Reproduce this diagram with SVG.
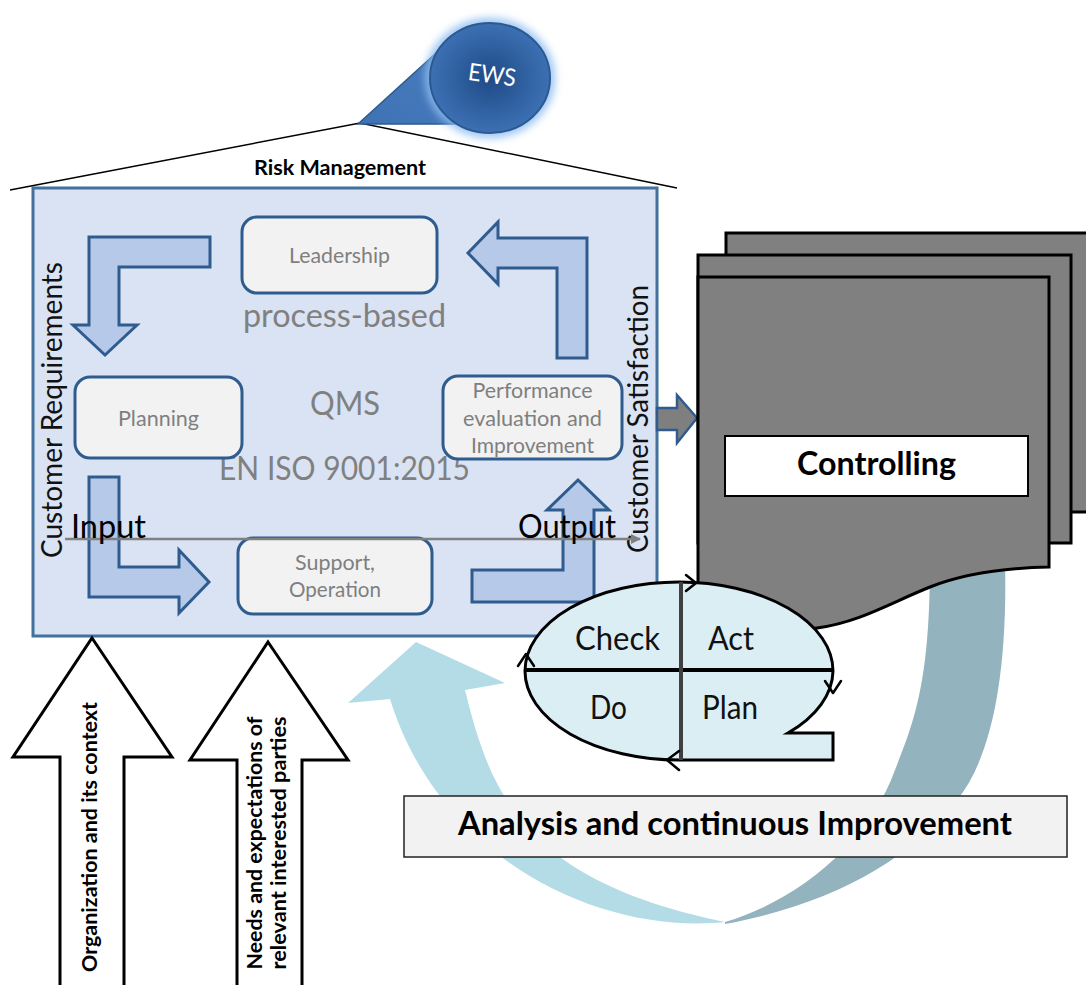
<svg xmlns="http://www.w3.org/2000/svg" width="1086" height="985" viewBox="0 0 1086 985">
<defs>
<style>
text{font-family:Lato,"Liberation Sans",sans-serif}
.pbox{fill:#f2f2f2;stroke:#2f5c8f;stroke-width:3}
.ptxt{fill:#7f7f7f;font-size:21px;text-anchor:middle}
.big{fill:#808080;font-size:33px;text-anchor:middle}
.bent{fill:#b6c9e8;stroke:#2f5c8f;stroke-width:3;stroke-linejoin:miter}
.pdca{fill:#111;font-size:33px;text-anchor:middle}
.cust{fill:#111;font-size:28px;text-anchor:middle}
.upar{fill:#fff;stroke:#000;stroke-width:3;stroke-linejoin:miter}
.bold{font-weight:bold;fill:#000}
.chev{fill:none;stroke:#000;stroke-width:2.5;stroke-linecap:round;stroke-linejoin:round}
</style>
<radialGradient id="ewsg" cx="50%" cy="50%" r="55%">
<stop offset="0" stop-color="#1f4a86"/>
<stop offset="1" stop-color="#3f74b8"/>
</radialGradient>
<linearGradient id="trig" x1="0" y1="1" x2="1" y2="0">
<stop offset="0" stop-color="#3e72b4"/>
<stop offset="1" stop-color="#4a7fc0"/>
</linearGradient>
<filter id="glow" x="-40%" y="-40%" width="180%" height="180%"><feGaussianBlur stdDeviation="4"/></filter>
<marker id="gArr" viewBox="0 0 10 10" refX="9" refY="5" markerWidth="4" markerHeight="4" orient="auto"><path d="M0,0 L10,5 L0,10 Z" fill="#808080"/></marker>
</defs>
<rect width="1086" height="985" fill="#fff"/>

<g id="qms-box">
<rect x="33" y="188" width="624" height="448" fill="#dae3f3" stroke="#41719c" stroke-width="3"/>
<text class="cust" transform="translate(62,410) rotate(-90)" textLength="296" lengthAdjust="spacingAndGlyphs">Customer Requirements</text>
<text class="cust" transform="translate(648,419) rotate(-90)" textLength="268" lengthAdjust="spacingAndGlyphs">Customer Satisfaction</text>
<text class="big" x="344.5" y="327" textLength="203" lengthAdjust="spacingAndGlyphs">process-based</text>
<text class="big" x="345" y="415" textLength="70" lengthAdjust="spacingAndGlyphs">QMS</text>
<text class="big" x="344.5" y="480" textLength="251" lengthAdjust="spacingAndGlyphs">EN ISO 9001:2015</text>
</g>

<g id="cycle-arrows">
<path class="bent" d="M210,237 L89,237 L89,325 L73,325 L105,355 L137,325 L119,325 L119,267 L210,267 Z"/>
<path class="bent" d="M557,358 L557,268 L498,268 L498,284 L468,253 L498,222 L498,238 L587,238 L587,358 Z"/>
<path class="bent" d="M89,477 L119,477 L119,567 L179,567 L179,550 L209,582 L179,613 L179,597 L89,597 Z"/>
<path class="bent" d="M472,570 L563,570 L563,510 L547,510 L578,480 L609,510 L594,510 L594,602 L472,602 Z"/>
</g>

<g id="leadership">
<rect class="pbox" x="242" y="217" width="195" height="76" rx="15"/>
<text class="ptxt" x="339.5" y="263" textLength="101" lengthAdjust="spacingAndGlyphs">Leadership</text>
</g>
<g id="planning">
<rect class="pbox" x="75" y="377" width="167" height="81" rx="15"/>
<text class="ptxt" x="158.5" y="426" textLength="81" lengthAdjust="spacingAndGlyphs">Planning</text>
</g>
<g id="performance">
<rect class="pbox" x="443" y="376" width="179" height="83" rx="15"/>
<text class="ptxt" x="532.5" y="398" textLength="120" lengthAdjust="spacingAndGlyphs">Performance</text>
<text class="ptxt" x="532.5" y="426" textLength="139" lengthAdjust="spacingAndGlyphs">evaluation and</text>
<text class="ptxt" x="532.5" y="453" textLength="123" lengthAdjust="spacingAndGlyphs">Improvement</text>
</g>
<g id="support">
<rect class="pbox" x="238" y="538" width="194" height="76" rx="15"/>
<text class="ptxt" x="335" y="570" textLength="80" lengthAdjust="spacingAndGlyphs">Support,</text>
<text class="ptxt" x="335" y="597" textLength="92" lengthAdjust="spacingAndGlyphs">Operation</text>
</g>

<g id="connectors">
<line x1="65" y1="539" x2="640" y2="539" stroke="#808080" stroke-width="2.5" marker-end="url(#gArr)"/>
<path d="M657,408 L677,408 L677,395 L697,418 L677,443 L677,430 L657,430 Z" fill="#7f7f7f" stroke="#2f5c8f" stroke-width="2.5"/>
</g>

<g id="io-labels">
<text x="71" y="538" font-size="33" fill="#000" textLength="75" lengthAdjust="spacingAndGlyphs">Input</text>
<text x="518" y="538" font-size="33" fill="#000" textLength="98" lengthAdjust="spacingAndGlyphs">Output</text>
</g>

<g id="improvement-arrow">
<path d="M416,642 L505,683 L465,690 C490,790 520,880 725,922 C600,935 440,860 390,699 L348,703 Z" fill="#b4dce6"/>
<path d="M725,922 C800,900 870,840 895,770 C915,720 930,680 930,560 L1005,560 C1008,680 990,760 957,800 C910,860 830,905 725,924 Z" fill="#93b3bf"/>
</g>

<g id="controlling">
<rect x="726" y="233" width="380" height="279" fill="#808080" stroke="#000" stroke-width="3"/>
<rect x="698" y="255" width="373" height="288" fill="#808080" stroke="#000" stroke-width="3"/>
<path d="M698,277 L1049,277 L1049,567 C1000,568 960,575 930,587 C890,603 860,622 817,628 C780,634 740,610 698,600 Z" fill="#808080" stroke="#000" stroke-width="3"/>
<rect x="725" y="436" width="303" height="60" fill="#fff" stroke="#000" stroke-width="2"/>
<text class="bold" x="876.5" y="475" font-size="32" text-anchor="middle" textLength="159" lengthAdjust="spacingAndGlyphs">Controlling</text>
</g>

<g id="pdca">
<path d="M833,671 A154,89 0 0 0 679,582 A154,89 0 0 0 525,671 A154,89 0 0 0 679,760 L833,760 L833,733 L788,733 A154,89 0 0 0 833,671 Z" fill="#dbeef3" stroke="#000" stroke-width="3"/>
<line x1="526" y1="670" x2="833" y2="670" stroke="#000" stroke-width="4"/>
<line x1="681" y1="582" x2="681" y2="760" stroke="#404040" stroke-width="4"/>
<polyline class="chev" points="686,575 696,583 686,591"/>
<polyline class="chev" points="825,681 833,693 841,681"/>
<polyline class="chev" points="679,751 667,760 679,770"/>
<polyline class="chev" points="518,666 526,654 534,666"/>
<text class="pdca" x="617.5" y="650" textLength="85" lengthAdjust="spacingAndGlyphs">Check</text>
<text class="pdca" x="731" y="650" textLength="46" lengthAdjust="spacingAndGlyphs">Act</text>
<text class="pdca" x="608.5" y="719" textLength="37" lengthAdjust="spacingAndGlyphs">Do</text>
<text class="pdca" x="730" y="719" textLength="56" lengthAdjust="spacingAndGlyphs">Plan</text>
</g>

<g id="analysis">
<rect x="404" y="796" width="663" height="61" fill="#f2f2f2" stroke="#222" stroke-width="1.5"/>
<text class="bold" x="735" y="835" font-size="33" text-anchor="middle" textLength="554" lengthAdjust="spacingAndGlyphs">Analysis and continuous Improvement</text>
</g>

<g id="organization">
<path class="upar" d="M92,638 L172,757 L124,757 L124,990 L60,990 L60,757 L13,757 Z"/>
<text class="bold" transform="translate(97,837) rotate(-90)" font-size="21" text-anchor="middle" textLength="270" lengthAdjust="spacingAndGlyphs">Organization and its context</text>
</g>
<g id="needs">
<path class="upar" d="M268,642 L348,760 L302,760 L302,990 L237,990 L237,760 L190,760 Z"/>
<text class="bold" transform="translate(262,843) rotate(-90)" font-size="21" text-anchor="middle" textLength="253" lengthAdjust="spacingAndGlyphs">Needs and expectations of</text>
<text class="bold" transform="translate(286,843) rotate(-90)" font-size="21" text-anchor="middle" textLength="253" lengthAdjust="spacingAndGlyphs">relevant interested parties</text>
</g>

<g id="risk-management">
<polyline points="10,190 360,123 677,188" fill="none" stroke="#000" stroke-width="1.5"/>
<text class="bold" x="340" y="175" font-size="21" text-anchor="middle" textLength="172" lengthAdjust="spacingAndGlyphs">Risk Management</text>
</g>

<g id="ews">
<path d="M358,124 L445,45 L490,124 Z" fill="url(#trig)" stroke="#2e5a8c" stroke-width="1.5"/>
<ellipse cx="490" cy="78" rx="60" ry="55" fill="none" stroke="#8fbdf2" stroke-width="9" filter="url(#glow)"/>
<ellipse cx="490" cy="78" rx="60" ry="55" fill="url(#ewsg)" stroke="#2b5a92" stroke-width="2"/>
<text transform="translate(491,83) rotate(8)" font-size="24" fill="#fff" text-anchor="middle" textLength="48" lengthAdjust="spacingAndGlyphs">EWS</text>
</g>
</svg>
